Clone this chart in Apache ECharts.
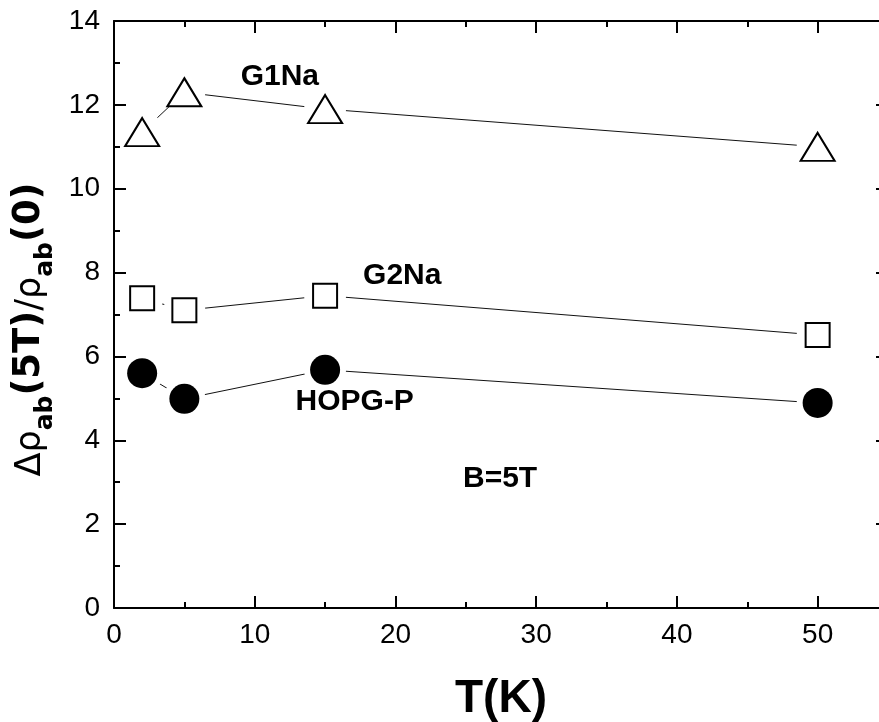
<!DOCTYPE html>
<html>
<head>
<meta charset="utf-8">
<script src="https://cdn.jsdelivr.net/npm/echarts@6/dist/echarts.min.js"></script>
<style>
  html, body { margin: 0; padding: 0; background: #fff; }
  #chart { width: 879px; height: 722px; }
</style>
</head>
<body>
<div id="chart"></div>
<script>
// Temperatures (K) at which the magnetoresistance was measured
const temperatures = [2, 5, 15, 50];
// Δρab(5T)/ρab(0) for each sample
const g1na = [11.35, 12.3, 11.9, 11.0];
const g2na = [7.39, 7.10, 7.45, 6.51];
const hopg = [5.60, 4.99, 5.68, 4.89];
// Axis tick labels
const xTickLabels = [0, 10, 20, 30, 40, 50];
const yTickLabels = [0, 2, 4, 6, 8, 10, 12, 14];
// Text annotations placed in data coordinates
const annotationTexts = ['G1Na', 'G2Na', 'HOPG-P', 'B=5T'];
const annotationX = [9.0, 17.7, 12.9, 24.8];
const annotationY = [12.66, 7.92, 4.91, 3.08];

const BLACK = '#000';
const pairs = ys => temperatures.map((t, i) => [t, ys[i]]);

const baseFont = 'Arial, "Liberation Sans", Helvetica, sans-serif';
const wideFont = '"DejaVu Sans", sans-serif';

function xAxisDef(position, interval, tickLen, showLine, showLabels, extra) {
  return Object.assign({
    type: 'value', position: position, min: 0, max: 55, interval: interval,
    axisLine: { show: showLine, onZero: false, lineStyle: { color: BLACK, width: 2 } },
    axisTick: { show: true, inside: true, length: tickLen, lineStyle: { color: BLACK, width: 2 } },
    axisLabel: { show: showLabels },
    splitLine: { show: false }
  }, extra || {});
}

function yAxisDef(position, showLabels, extra) {
  return Object.assign({
    type: 'value', position: position, min: 0, max: 14, interval: 2,
    axisLine: { show: true, onZero: false, lineStyle: { color: BLACK, width: 2 } },
    axisTick: { show: true, inside: true, length: 12, lineStyle: { color: BLACK, width: 2 } },
    minorTick: { show: true, splitNumber: 2, length: 6, lineStyle: { color: BLACK, width: 2 } },
    axisLabel: { show: showLabels },
    splitLine: { show: false }, minorSplitLine: { show: false }
  }, extra || {});
}

const lineSeries = (ys) => ({
  type: 'line', data: pairs(ys), symbol: 'none', z: 2, silent: true,
  lineStyle: { color: '#111', width: 1, opacity: 1 }
});

// White discs behind each marker so that the connecting lines stop short of it
const haloSeries = {
  type: 'scatter', z: 3, silent: true,
  data: [].concat(pairs(g1na), pairs(g2na), pairs(hopg)),
  symbol: 'circle', symbolSize: 42,
  itemStyle: { color: '#fff', opacity: 1 }
};

const chart = echarts.init(document.getElementById('chart'), null, { renderer: 'canvas' });

chart.setOption({
  animation: false,
  backgroundColor: '#fff',
  grid: { left: 114, top: 21, right: -9, bottom: 114, containLabel: false, outerBoundsMode: 'none' },
  xAxis: [
    xAxisDef('bottom', 10, 12, true, true, {
      axisLabel: {
        show: true, color: BLACK, fontSize: 28, fontFamily: baseFont, margin: 13,
        showMaxLabel: false,
        formatter: v => (xTickLabels.indexOf(v) >= 0 ? String(v) : '')
      },
      name: 'T(K)', nameLocation: 'middle', nameGap: 68,
      nameTextStyle: { color: BLACK, fontSize: 46, fontWeight: 'bold', fontFamily: baseFont }
    }),
    xAxisDef('bottom', 5, 6, false, false),
    xAxisDef('top', 10, 12, true, false),
    xAxisDef('top', 5, 6, false, false)
  ],
  yAxis: [
    yAxisDef('left', true, {
      axisLabel: {
        show: true, color: BLACK, fontSize: 28, fontFamily: baseFont, margin: 14,
        formatter: v => (yTickLabels.indexOf(v) >= 0 ? String(v) : '')
      },
      name: '{g|Δρ}{s|ab}{b|(5T)}{g|/ρ}{s|ab}{b|(0)}',
      nameLocation: 'middle', nameRotate: 90, nameGap: 62,
      nameTextStyle: {
        color: BLACK,
        padding: [0, 30, 0, 0],
        rich: {
          g: { fontSize: 35, fontFamily: wideFont, color: BLACK, verticalAlign: 'bottom', lineHeight: 40 },
          b: { fontSize: 37, fontWeight: 'bold', fontFamily: wideFont, color: BLACK, verticalAlign: 'bottom', lineHeight: 40 },
          s: { fontSize: 25, fontWeight: 'bold', fontFamily: wideFont, color: BLACK, verticalAlign: 'bottom', lineHeight: 40, padding: [0, 0, -10, 0] }
        }
      }
    }),
    yAxisDef('right', false)
  ],
  series: [
    lineSeries(g1na), lineSeries(g2na), lineSeries(hopg),
    haloSeries,
    {
      name: 'G1Na', type: 'scatter', z: 4, data: pairs(g1na),
      symbol: 'triangle', symbolSize: [34, 28],
      itemStyle: { color: '#fff', borderColor: BLACK, borderWidth: 2, opacity: 1 }
    },
    {
      name: 'G2Na', type: 'scatter', z: 4, data: pairs(g2na),
      symbol: 'rect', symbolSize: 24,
      itemStyle: { color: '#fff', borderColor: BLACK, borderWidth: 2, opacity: 1 }
    },
    {
      name: 'HOPG-P', type: 'scatter', z: 4, data: pairs(hopg),
      symbol: 'circle', symbolSize: 30,
      itemStyle: { color: BLACK, borderWidth: 0, opacity: 1 }
    }
  ]
});

// Annotation labels, positioned through the axes' own scales
const graphics = annotationTexts.map((txt, i) => {
  const p = chart.convertToPixel({ xAxisIndex: 0, yAxisIndex: 0 }, [annotationX[i], annotationY[i]]);
  return {
    type: 'text', x: p[0], y: p[1], z: 10,
    style: {
      text: txt, fill: BLACK, fontSize: 30, fontWeight: 'bold', fontFamily: baseFont,
      textAlign: 'left', textVerticalAlign: 'middle'
    }
  };
});
chart.setOption({ graphic: graphics });
</script>
</body>
</html>
